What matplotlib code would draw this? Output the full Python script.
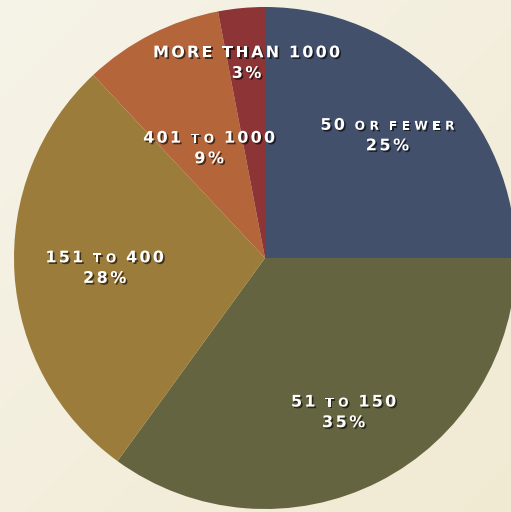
import numpy as np
import matplotlib
matplotlib.use("Agg")
import matplotlib.pyplot as plt
import matplotlib.patheffects as pe
from matplotlib.offsetbox import TextArea, HPacker, VPacker, AnnotationBbox

# data
# each label: list of (word, is_small_caps)
label_parts = [
    [("50", False), ("OR", True), ("FEWER", True)],
    [("51", False), ("TO", True), ("150", False)],
    [("151", False), ("TO", True), ("400", False)],
    [("401", False), ("TO", True), ("1000", False)],
    [("MORE", False), ("THAN", False), ("1000", False)],
]
shares = [25, 35, 28, 9, 3]
colors = ["#43506b", "#646440", "#9c7c3a", "#b4653a", "#8c3436"]
label_r = [0.69, 0.69, 0.64, 0.49, 0.78]

W, H = 511, 512
cx, cy, R = 265, 258, 251

fig = plt.figure(figsize=(W / 100, H / 100), dpi=100)

# background gradient
bg = fig.add_axes([0, 0, 1, 1], zorder=0)
yy, xx = np.mgrid[0:1:200j, 0:1:200j]
t = (xx + yy) / 2
c1 = np.array([246, 243, 232]) / 255
c2 = np.array([241, 234, 211]) / 255
img = c1[None, None, :] * (1 - t[..., None]) + c2[None, None, :] * t[..., None]
bg.imshow(img, extent=[0, 1, 0, 1], aspect="auto")
bg.axis("off")

ax = fig.add_axes([0, 0, 1, 1], zorder=1)
ax.patch.set_alpha(0)
wedges, _ = ax.pie(shares, colors=colors, startangle=90, counterclock=False,
                   radius=1, wedgeprops=dict(linewidth=0))
ax.set_aspect("auto")
ax.set_xlim(-cx / R, (W - cx) / R)
ax.set_ylim(-(H - cy) / R, cy / R)
ax.axis("off")

shadow = [pe.SimplePatchShadow(offset=(1.2, -1.2), shadow_rgbFace="black", alpha=0.6), pe.Normal()]
big = dict(color="white", fontsize=11.5, fontweight="bold", family="DejaVu Sans", path_effects=shadow)
small = dict(color="white", fontsize=8.8, fontweight="bold", family="DejaVu Sans", path_effects=shadow)


def word_box(word, props, sep):
    return HPacker(children=[TextArea(ch, textprops=props) for ch in word],
                   align="baseline", pad=0, sep=sep)


for w, parts, pct, r in zip(wedges, label_parts, shares, label_r):
    ang = np.deg2rad((w.theta1 + w.theta2) / 2)
    x, y = r * np.cos(ang), r * np.sin(ang)
    words = [word_box(s, small, 3.2) if sm else word_box(s, big, 1.6) for s, sm in parts]
    line1 = HPacker(children=words, align="baseline", pad=0, sep=7)
    line2 = word_box(f"{pct}%", big, 1.8)
    box = VPacker(children=[line1, line2], align="center", pad=0, sep=4)
    ab = AnnotationBbox(box, (x, y), frameon=False, box_alignment=(0.5, 0.5))
    ax.add_artist(ab)

fig.savefig("out.png", dpi=100)
